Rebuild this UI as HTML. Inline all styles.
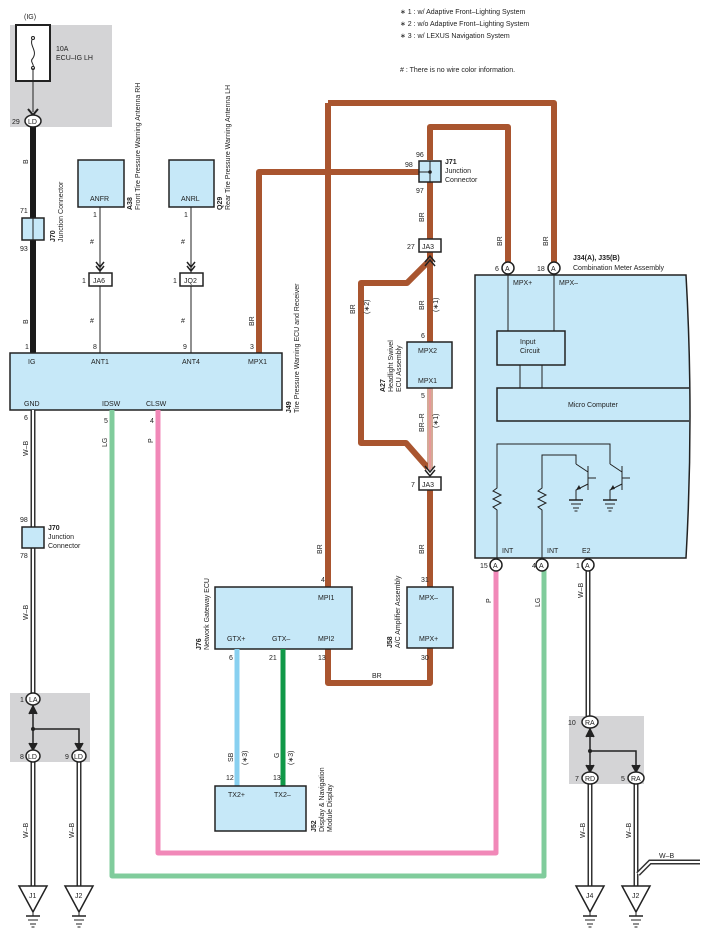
<!DOCTYPE html>
<html><head><meta charset="utf-8"><style>
html,body{margin:0;padding:0;background:#fff}
svg{display:block}
text{font-family:"Liberation Sans",sans-serif;font-size:7px;fill:#222}
</style></head><body>
<svg width="702" height="934" viewBox="0 0 702 934" xmlns="http://www.w3.org/2000/svg">
<defs>
<g id="gnd"><line x1="-7" y1="0" x2="7" y2="0" stroke="#222" stroke-width="1.5"/><line x1="-5" y1="4" x2="5" y2="4" stroke="#222"/><line x1="-3" y1="8" x2="3" y2="8" stroke="#222"/><line x1="-1.5" y1="11" x2="1.5" y2="11" stroke="#222"/></g>
<g id="tri"><path d="M-14 0 H14 L0 26 Z" fill="#fff" stroke="#222" stroke-width="1.5"/><line x1="0" y1="26" x2="0" y2="30" stroke="#222"/><use href="#gnd" y="30"/></g>
</defs>
<text x="400" y="14">∗ 1 : w/ Adaptive Front–Lighting System</text>
<text x="400" y="26">∗ 2 : w/o Adaptive Front–Lighting System</text>
<text x="400" y="38">∗ 3 : w/ LEXUS Navigation System</text>
<text x="400" y="72"># : There is no wire color information.</text>

<rect x="10" y="25" width="102" height="102" fill="#d4d4d6"/>
<text x="24" y="19">(IG)</text>
<rect x="16" y="25" width="34" height="56" fill="#fff" stroke="#222" stroke-width="2"/>
<path d="M33 38 C28 45,38 50,33 58 C29 62,35 64,33 68" fill="none" stroke="#222"/>
<circle cx="33" cy="38" r="1.5" fill="#fff" stroke="#222"/><circle cx="33" cy="68" r="1.5" fill="#fff" stroke="#222"/>
<line x1="33" y1="68" x2="33" y2="112" stroke="#222"/>
<path d="M28 109 L33 115 L38 109" fill="none" stroke="#222" stroke-width="2"/>
<text x="56" y="51">10A</text><text x="56" y="60">ECU–IG LH</text>

<line x1="33" y1="121" x2="33" y2="355" stroke="#1a1a1a" stroke-width="6"/>
<ellipse cx="33" cy="121" rx="8" ry="6" fill="#fff" stroke="#222" stroke-width="1.5"/>
<text x="28" y="124">LD</text><text x="12" y="124">29</text>
<rect x="22" y="218" width="22" height="22" fill="#c6e8f8" stroke="#222" stroke-width="1.5"/>
<line x1="33" y1="218" x2="33" y2="240" stroke="#222"/>
<text x="20" y="213">71</text><text x="20" y="251">93</text>
<text transform="translate(28,164) rotate(-90)">B</text>
<text transform="translate(28,324) rotate(-90)">B</text>
<text transform="translate(55,242) rotate(-90)" font-weight="bold">J70</text>
<text transform="translate(63,242) rotate(-90)">Junction Connector</text>
<text x="25" y="349">1</text>

<rect x="78" y="160" width="46" height="47" fill="#c6e8f8" stroke="#222" stroke-width="1.5"/>
<text x="90" y="201">ANFR</text>
<rect x="169" y="160" width="45" height="47" fill="#c6e8f8" stroke="#222" stroke-width="1.5"/>
<text x="181" y="201">ANRL</text>
<line x1="100" y1="207" x2="100" y2="355" stroke="#222"/>
<line x1="191" y1="207" x2="191" y2="355" stroke="#222"/>
<path d="M96 262 L100 267 L104 262 M96 266 L100 271 L104 266" fill="none" stroke="#222" stroke-width="1.5"/>
<path d="M187 262 L191 267 L195 262 M187 266 L191 271 L195 266" fill="none" stroke="#222" stroke-width="1.5"/>
<rect x="89" y="273" width="23" height="13" fill="#fff" stroke="#222" stroke-width="1.5"/><text x="93" y="283">JA6</text>
<rect x="180" y="273" width="23" height="13" fill="#fff" stroke="#222" stroke-width="1.5"/><text x="184" y="283">JQ2</text>
<text x="82" y="283">1</text><text x="173" y="283">1</text>
<text x="93" y="217">1</text><text x="184" y="217">1</text>
<text x="90" y="244">#</text><text x="181" y="244">#</text>
<text x="90" y="323">#</text><text x="181" y="323">#</text>
<text x="93" y="349">8</text><text x="183" y="349">9</text>
<text transform="translate(132,210) rotate(-90)" font-weight="bold">A38</text>
<text transform="translate(140,210) rotate(-90)">Front Tire Pressure Warning Antenna RH</text>
<text transform="translate(222,210) rotate(-90)" font-weight="bold">Q29</text>
<text transform="translate(230,210) rotate(-90)">Rear Tire Pressure Warning Antenna LH</text>

<g fill="none" stroke="#a9552f" stroke-width="6" stroke-linejoin="round">
<path d="M259 355 V172 H420"/>
<path d="M328 103 H554 V262"/>
<path d="M328 103 V683 H430 V645"/>
<path d="M430 160 V127 H508 V262"/>
<path d="M430 182 V240"/>
<path d="M430 252 V342"/>
<path d="M428 262 L407 283 H361 V443 H406 L428 468"/>
<path d="M430 489 V588"/>
</g>
<path d="M430 388 V470" stroke="#a9552f" stroke-width="5"/>
<path d="M430 388 V470" stroke="#fff" stroke-width="3"/>
<path d="M430 388 V470" stroke="#d03030" stroke-width="1"/>
<path d="M425 262 L430 256 L435 262 M425 266 L430 260 L435 266" fill="none" stroke="#222" stroke-width="1.5"/>
<path d="M425 466 L430 472 L435 466 M425 470 L430 476 L435 470" fill="none" stroke="#222" stroke-width="1.5"/>
<rect x="419" y="161" width="22" height="21" fill="#c6e8f8" stroke="#222" stroke-width="1.5"/>
<line x1="430" y1="161" x2="430" y2="182" stroke="#222"/><line x1="419" y1="172" x2="430" y2="172" stroke="#222"/><circle cx="430" cy="172" r="1.8" fill="#222"/>
<text x="416" y="157">96</text><text x="405" y="167">98</text><text x="416" y="193">97</text>
<text x="445" y="164" font-weight="bold">J71</text><text x="445" y="173">Junction</text><text x="445" y="182">Connector</text>
<rect x="419" y="239" width="22" height="13" fill="#fff" stroke="#222" stroke-width="1.5"/><text x="422" y="249">JA3</text><text x="407" y="249">27</text>
<rect x="419" y="477" width="22" height="13" fill="#fff" stroke="#222" stroke-width="1.5"/><text x="422" y="487">JA3</text><text x="411" y="487">7</text>
<text transform="translate(424,222) rotate(-90)">BR</text>
<text transform="translate(424,310) rotate(-90)">BR</text>
<text transform="translate(438,312) rotate(-90)">(∗1)</text>
<text transform="translate(355,314) rotate(-90)">BR</text>
<text transform="translate(369,314) rotate(-90)">(∗2)</text>
<text transform="translate(424,432) rotate(-90)">BR–R</text>
<text transform="translate(438,428) rotate(-90)">(∗1)</text>
<text transform="translate(424,554) rotate(-90)">BR</text>
<text transform="translate(322,554) rotate(-90)">BR</text>
<text transform="translate(502,246) rotate(-90)">BR</text>
<text transform="translate(548,246) rotate(-90)">BR</text>
<text transform="translate(254,326) rotate(-90)">BR</text>
<text x="250" y="349">3</text>
<text x="372" y="678">BR</text>

<rect x="407" y="342" width="45" height="46" fill="#c6e8f8" stroke="#222" stroke-width="1.5"/>
<text x="418" y="353">MPX2</text><text x="418" y="383">MPX1</text>
<text x="421" y="338">6</text><text x="421" y="398">5</text>
<text transform="translate(385,392) rotate(-90)" font-weight="bold">A27</text>
<text transform="translate(393,392) rotate(-90)">Headlight Swivel</text>
<text transform="translate(401,392) rotate(-90)">ECU Assembly</text>

<rect x="10" y="353" width="272" height="57" fill="#c6e8f8" stroke="#222" stroke-width="1.5"/>
<text x="28" y="364">IG</text><text x="91" y="364">ANT1</text><text x="182" y="364">ANT4</text><text x="248" y="364">MPX1</text>
<text x="24" y="406">GND</text><text x="102" y="406">IDSW</text><text x="146" y="406">CLSW</text>
<text transform="translate(291,413) rotate(-90)" font-weight="bold">J49</text>
<text transform="translate(299,413) rotate(-90)">Tire Pressure Warning ECU and Receiver</text>

<path d="M158 410 V853 H496 V568" fill="none" stroke="#f188b8" stroke-width="5" stroke-linejoin="round"/>
<path d="M112 410 V876 H544 V568" fill="none" stroke="#80cc9c" stroke-width="5" stroke-linejoin="round"/>
<text x="104" y="423">5</text><text x="150" y="423">4</text>
<text transform="translate(107,447) rotate(-90)">LG</text>
<text transform="translate(153,443) rotate(-90)">P</text>
<text transform="translate(491,603) rotate(-90)">P</text>
<text transform="translate(540,607) rotate(-90)">LG</text>

<rect x="215" y="587" width="137" height="62" fill="#c6e8f8" stroke="#222" stroke-width="1.5"/>
<text x="318" y="600">MPI1</text><text x="227" y="641">GTX+</text><text x="272" y="641">GTX–</text><text x="318" y="641">MPI2</text>
<text x="321" y="582">4</text><text x="229" y="660">6</text><text x="269" y="660">21</text><text x="318" y="660">13</text>
<text transform="translate(201,650) rotate(-90)" font-weight="bold">J76</text>
<text transform="translate(209,650) rotate(-90)">Network Gateway ECU</text>
<rect x="407" y="587" width="46" height="61" fill="#c6e8f8" stroke="#222" stroke-width="1.5"/>
<text x="419" y="600">MPX–</text><text x="419" y="641">MPX+</text>
<text x="421" y="582">31</text><text x="421" y="660">30</text>
<text transform="translate(392,648) rotate(-90)" font-weight="bold">J58</text>
<text transform="translate(400,648) rotate(-90)">A/C Amplifier Assembly</text>
<line x1="237" y1="649" x2="237" y2="786" stroke="#88d0f0" stroke-width="5"/>
<line x1="283" y1="649" x2="283" y2="786" stroke="#109848" stroke-width="5"/>
<text transform="translate(233,762) rotate(-90)">SB</text><text transform="translate(247,765) rotate(-90)">(∗3)</text>
<text transform="translate(279,758) rotate(-90)">G</text><text transform="translate(293,765) rotate(-90)">(∗3)</text>
<rect x="215" y="786" width="91" height="45" fill="#c6e8f8" stroke="#222" stroke-width="1.5"/>
<text x="228" y="797">TX2+</text><text x="274" y="797">TX2–</text>
<text x="226" y="780">12</text><text x="273" y="780">13</text>
<text transform="translate(316,832) rotate(-90)" font-weight="bold">J52</text>
<text transform="translate(324,832) rotate(-90)">Display &amp; Navigation</text>
<text transform="translate(332,832) rotate(-90)">Module Display</text>

<path d="M475 275 H686 Q694 416 686 558 H475 Z" fill="#c6e8f8" stroke="#222" stroke-width="1.5"/>
<text x="573" y="260" font-weight="bold">J34(A), J35(B)</text>
<text x="573" y="270">Combination Meter Assembly</text>
<line x1="508" y1="275" x2="508" y2="331" stroke="#222"/><line x1="554" y1="275" x2="554" y2="331" stroke="#222"/>
<text x="513" y="285">MPX+</text><text x="559" y="285">MPX–</text>
<rect x="497" y="331" width="68" height="34" fill="#c6e8f8" stroke="#222" stroke-width="1.5"/>
<text x="520" y="344">Input</text><text x="520" y="353">Circuit</text>
<line x1="520" y1="365" x2="520" y2="388" stroke="#222"/><line x1="542" y1="365" x2="542" y2="388" stroke="#222"/>
<path d="M689 388 H497 V421 H689" fill="#c6e8f8" stroke="#222" stroke-width="1.5"/>
<text x="568" y="407">Micro Computer</text>
<g fill="none" stroke="#222">
<path d="M497 558 V510 l-4 -3 l8 -4 l-8 -4 l8 -4 l-8 -4 l4 -3 V444 H610 V464"/>
<path d="M542 558 V510 l-4 -3 l8 -4 l-8 -4 l8 -4 l-8 -4 l4 -3 V455 H576 V464"/>
<path d="M576 464 L588 472 M588 484 L576 490 V500 M588 466 V490 M588 478 H596"/>
<path d="M610 464 L622 472 M622 484 L610 490 V500 M622 466 V490 M622 478 H630"/>
</g>
<path d="M576 490 l5 -1 l-2 -4 z M610 490 l5 -1 l-2 -4 z" fill="#222"/>
<use href="#gnd" x="576" y="500"/><use href="#gnd" x="610" y="500"/>
<text x="502" y="553">INT</text><text x="547" y="553">INT</text><text x="582" y="553">E2</text>

<g fill="none">
<path d="M33 410 V694 M33 762 V886 M79 762 V886 M588 568 V717 M590 784 V886 M636 784 V886" stroke="#333" stroke-width="5"/>
<path d="M33 410 V694 M33 762 V886 M79 762 V886 M588 568 V717 M590 784 V886 M636 784 V886" stroke="#fff" stroke-width="2"/>
<path d="M700 862 H650 L638 874" stroke="#333" stroke-width="5"/>
<path d="M700 862 H650 L638 874" stroke="#fff" stroke-width="2"/>
</g>
<text x="659" y="858">W–B</text>
<text x="24" y="420">6</text>
<text transform="translate(28,456) rotate(-90)">W–B</text>
<rect x="22" y="527" width="22" height="21" fill="#c6e8f8" stroke="#222" stroke-width="1.5"/>
<text x="20" y="522">98</text><text x="20" y="558">78</text>
<text x="48" y="530" font-weight="bold">J70</text><text x="48" y="539">Junction</text><text x="48" y="548">Connector</text>
<text transform="translate(28,620) rotate(-90)">W–B</text>
<text transform="translate(28,838) rotate(-90)">W–B</text>
<text transform="translate(74,838) rotate(-90)">W–B</text>
<text transform="translate(583,598) rotate(-90)">W–B</text>
<text transform="translate(585,838) rotate(-90)">W–B</text>
<text transform="translate(631,838) rotate(-90)">W–B</text>

<rect x="10" y="693" width="80" height="69" fill="#d4d4d6"/>
<line x1="33" y1="699" x2="33" y2="756" stroke="#222" stroke-width="1.5"/><path d="M33 729 H79 V752" fill="none" stroke="#222" stroke-width="1.5"/><circle cx="33" cy="729" r="2" fill="#222"/>
<path d="M29 714 L33 706 L37 714 M29 743 L33 750 L37 743 M75 743 L79 750 L83 743" fill="#222" stroke="#222" stroke-width="1.5"/>
<ellipse cx="33" cy="699" rx="7" ry="6" fill="#fff" stroke="#222" stroke-width="1.5"/><text x="29" y="702">LA</text><text x="20" y="702">1</text>
<ellipse cx="33" cy="756" rx="7" ry="6" fill="#fff" stroke="#222" stroke-width="1.5"/><text x="28" y="759">LD</text><text x="20" y="759">8</text>
<ellipse cx="79" cy="756" rx="7" ry="6" fill="#fff" stroke="#222" stroke-width="1.5"/><text x="74" y="759">LD</text><text x="65" y="759">9</text>

<rect x="569" y="716" width="75" height="68" fill="#d4d4d6"/>
<line x1="590" y1="722" x2="590" y2="778" stroke="#222" stroke-width="1.5"/><path d="M590 751 H636 V774" fill="none" stroke="#222" stroke-width="1.5"/><circle cx="590" cy="751" r="2" fill="#222"/>
<path d="M586 737 L590 729 L594 737 M586 765 L590 772 L594 765 M632 765 L636 772 L640 765" fill="#222" stroke="#222" stroke-width="1.5"/>
<ellipse cx="590" cy="722" rx="8" ry="6" fill="#fff" stroke="#222" stroke-width="1.5"/><text x="585" y="725">RA</text><text x="568" y="725">10</text>
<ellipse cx="590" cy="778" rx="8" ry="6" fill="#fff" stroke="#222" stroke-width="1.5"/><text x="585" y="781">RD</text><text x="575" y="781">7</text>
<ellipse cx="636" cy="778" rx="8" ry="6" fill="#fff" stroke="#222" stroke-width="1.5"/><text x="631" y="781">RA</text><text x="621" y="781">5</text>

<g stroke="#222" stroke-width="1.5" fill="#fff">
<circle cx="508" cy="268" r="6"/><circle cx="554" cy="268" r="6"/>
<circle cx="496" cy="565" r="6"/><circle cx="542" cy="565" r="6"/><circle cx="588" cy="565" r="6"/>
</g>
<text x="505" y="271">A</text><text x="551" y="271">A</text><text x="493" y="568">A</text><text x="539" y="568">A</text><text x="585" y="568">A</text>
<text x="495" y="271">6</text><text x="537" y="271">18</text>
<text x="480" y="568">15</text><text x="532" y="568">4</text><text x="576" y="568">1</text>

<use href="#tri" x="33" y="886"/><use href="#tri" x="79" y="886"/><use href="#tri" x="590" y="886"/><use href="#tri" x="636" y="886"/>
<text x="29" y="898">J1</text><text x="75" y="898">J2</text><text x="586" y="898">J4</text><text x="632" y="898">J2</text>
</svg></body></html>
